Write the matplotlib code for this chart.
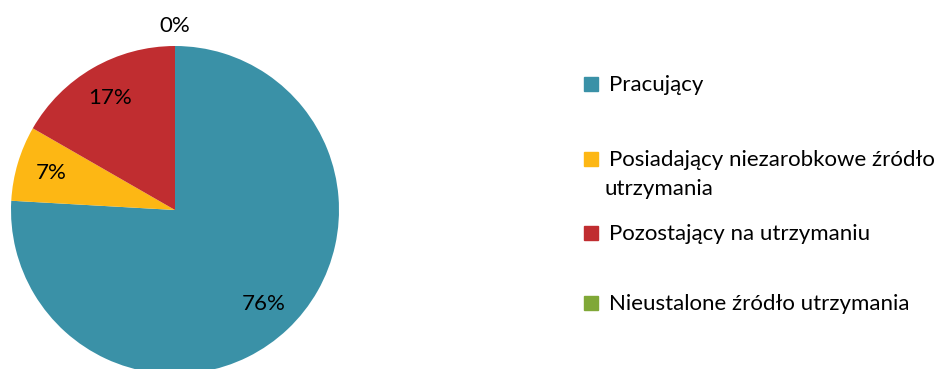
import matplotlib
matplotlib.use("Agg")
import matplotlib.pyplot as plt
from matplotlib.patches import Rectangle

plt.rcParams['font.family'] = ['Lato', 'DejaVu Sans']

categories = ['Pracujący', 'Posiadający niezarobkowe źródło\nutrzymania',
              'Pozostający na utrzymaniu', 'Nieustalone źródło utrzymania']
shares = [75.9, 7.4, 16.7, 0.0]
colors = ['#3A91A7', '#FDB714', '#C02D30', '#80A837']

W, H = 934, 369
fig = plt.figure(figsize=(W / 100, H / 100), dpi=100)

# pie axes placed in pixels: centre (175, 210), radius 164
cx, cy, r = 175, 210, 164
ax = fig.add_axes([(cx - r) / W, (H - cy - r) / H, 2 * r / W, 2 * r / H])
wedges, texts, autotexts = ax.pie(
    shares, colors=colors, startangle=90, counterclock=False,
    autopct=lambda p: '%d%%' % round(p), pctdistance=0.79,
    wedgeprops=dict(linewidth=0), textprops=dict(fontsize=16, color='black'))
for w in wedges:
    w.set_clip_on(False)
# empty slice label sits above the pie
autotexts[3].set_position((0, 1.12))
for t in autotexts:
    t.set_clip_on(False)
ax.set_xlim(-1, 1)
ax.set_ylim(-1, 1)
ax.set_aspect('equal')
ax.axis('off')

# legend drawn by hand, rows given by text baseline (px from top)
baselines = [91, 166, 240, 310]
line_gap = 29
for lab, col, y in zip(categories, colors, baselines):
    fig.patches.append(Rectangle((584 / W, (H - y) / H), 14 / W, 14 / H,
                                 transform=fig.transFigure, color=col))
    lines = lab.split('\n')
    fig.text(609 / W, (H - y) / H, lines[0], fontsize=16, va='baseline')
    if len(lines) > 1:
        fig.text(604 / W, (H - y - line_gap) / H, lines[1], fontsize=16,
                 va='baseline')

fig.savefig('out.png', dpi=100)
